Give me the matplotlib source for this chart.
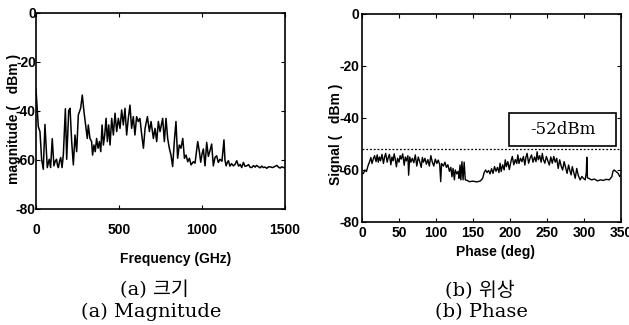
import matplotlib
matplotlib.use("Agg")
import matplotlib.pyplot as plt
from matplotlib.patches import Rectangle

plt.rcParams["axes.unicode_minus"] = False

# (a) magnitude spectrum
freq = [0, 14, 24, 34, 44, 54, 68, 80, 88, 98, 108, 116, 124, 129, 135, 142,
        149, 157, 165, 177, 185, 197, 205, 215, 225, 235, 245, 255, 269, 279,
        289, 299, 309, 315, 325, 335, 341, 349, 357, 365, 374, 382, 390, 398,
        406, 414, 422, 430, 438, 446, 456, 466, 476, 486, 496, 506, 516, 526,
        536, 546, 556, 566, 576, 586, 596, 606, 616, 626, 637, 647, 657, 671,
        683, 693, 707, 717, 727, 737, 747, 763, 773, 783, 793, 803, 813, 823,
        833, 843, 853, 863, 873, 884, 894, 904, 914, 924, 934, 948, 958, 974,
        984, 992, 1000, 1008, 1018, 1028, 1038, 1048, 1058, 1068, 1078, 1088,
        1098, 1108, 1120, 1132, 1138, 1145, 1152, 1159, 1168, 1178, 1189, 1199,
        1209, 1220, 1230, 1239, 1249, 1259, 1269, 1280, 1290, 1299, 1310, 1320,
        1329, 1340, 1350, 1360, 1369, 1380, 1390, 1400, 1410, 1425, 1440, 1450,
        1460, 1470, 1480, 1490, 1500]
magnitude = [-31, -46.4, -48.4, -59.7, -63.8, -45.5, -63.1, -59.7, -63.1, -51.3,
             -62.4, -60.5, -59.7, -62.0, -63.1, -60.5, -59.0, -63.1, -57.6, -39.1,
             -59.7, -39.9, -38.9, -52.5, -62.0, -49.8, -56.6, -41.6, -38.9, -33.5,
             -40.3, -45.7, -51.2, -45.7, -51.2, -52.5, -58.0, -53.9, -56.6, -51.2,
             -55.2, -52.5, -56.6, -45.7, -53.9, -49.8, -43.0, -52.5, -45.7, -53.9,
             -43.0, -49.8, -40.9, -48.4, -43.0, -47.1, -39.6, -45.7, -38.9, -49.8,
             -43.0, -37.6, -47.1, -42.3, -49.8, -42.3, -44.3, -43.0, -49.8, -55.2,
             -47.1, -42.3, -48.4, -44.3, -51.2, -47.1, -52.5, -44.3, -48.4, -43.0,
             -52.5, -43.0, -51.2, -55.2, -58.0, -62.7, -52.5, -44.3, -59.3, -53.9,
             -55.2, -51.2, -59.3, -58.0, -60.7, -59.3, -62.0, -60.7, -61.3, -52.5,
             -56.6, -60.9, -57.5, -55.5, -62.4, -52.8, -58.5, -56.2, -53.5, -62.4,
             -59.0, -58.3, -61.0, -59.7, -60.5, -51.8, -60.0, -62.4, -61.0, -60.3,
             -62.5, -61.5, -62.4, -61.8, -60.3, -62.5, -61.8, -63.1, -61.0, -62.6,
             -62.4, -61.9, -63.0, -63.1, -62.3, -62.9, -62.2, -62.8, -63.2, -62.5,
             -63.1, -62.9, -63.4, -62.8, -62.8, -63.1, -62.6, -62.2, -62.9, -63.3,
             -62.8, -63.1, -63.0]

# (b) signal vs phase
phase = [0, 2, 4, 6, 8, 10, 12, 13.5, 15, 17, 19, 20.5, 22, 23.5, 25, 27, 29,
         30.5, 32, 34, 35.5, 37, 39, 40.5, 42, 43.5, 45, 46.5, 48, 50, 51.5, 53,
         55, 57, 58.5, 60, 62, 63, 64.5, 66, 68, 70, 72, 74, 76, 78, 80, 81.5,
         83, 85, 87, 89, 91, 93, 95, 97, 99, 101, 103, 105, 106.3, 107.5, 110,
         112, 114, 116, 118, 120, 121.5, 123, 124.8, 126, 128, 130, 131, 132.4,
         133.5, 135, 136.5, 138, 139.5, 142, 145, 150, 155, 160, 163, 165, 167,
         169, 171, 173, 175, 177, 179, 181, 183, 185, 186.5, 188, 190, 192,
         193.5, 195, 197, 199, 201, 203, 205, 207, 209, 210.5, 212, 214, 216,
         218, 220, 221.5, 223, 225, 227, 229, 231, 233, 235, 236.5, 238, 240,
         242, 243.5, 245, 247, 249, 251, 253, 255, 257, 259, 261, 263, 265, 267,
         269, 271, 273, 275, 277, 279, 281, 282.5, 284, 286, 288, 290, 292,
         294.6, 297, 299, 301.4, 303, 303.6, 304.5, 306, 310, 314, 318, 322,
         326, 330, 334, 337.4, 339, 340.5, 343, 346, 348, 350]
signal = [-61.5, -61.3, -60.0, -60.6, -58.5, -57.0, -55.2, -57.5, -56.0, -54.5,
          -56.8, -54.2, -57.0, -55.0, -56.5, -54.0, -57.5, -55.0, -53.6, -57.0,
          -55.2, -54.0, -58.0, -55.0, -56.5, -53.8, -56.0, -58.8, -55.5, -57.0,
          -54.5, -55.8, -53.8, -58.2, -55.0, -56.5, -54.5, -62.0, -55.0, -57.0,
          -55.5, -57.2, -54.2, -58.5, -55.0, -56.8, -59.0, -55.2, -57.0, -55.5,
          -57.8, -56.0, -58.5, -54.5, -57.0, -58.5, -55.8, -57.5, -56.2, -58.0,
          -64.5, -57.5, -58.5, -57.0, -59.0, -58.0, -60.5, -59.0, -62.6, -59.4,
          -63.8, -60.0, -61.5, -60.5, -63.2, -58.1, -63.8, -56.8, -63.8, -57.0,
          -63.8, -64.0, -64.5, -64.3, -64.6, -64.2, -63.2, -61.0, -60.0, -61.0,
          -60.2, -61.5, -59.5, -61.3, -58.7, -60.5, -59.0, -61.0, -57.4, -60.6,
          -58.0, -60.0, -56.1, -58.7, -56.8, -59.8, -57.0, -54.8, -58.0, -56.0,
          -57.5, -54.2, -57.5, -55.5, -56.8, -54.8, -58.1, -55.0, -53.6, -57.4,
          -55.5, -54.2, -57.0, -55.0, -56.8, -53.0, -56.1, -54.5, -57.0, -53.6,
          -56.0, -57.4, -54.8, -56.5, -58.1, -55.0, -57.4, -54.8, -57.0, -55.5,
          -59.4, -56.1, -58.5, -60.0, -56.8, -59.0, -61.3, -58.1, -60.5, -61.9,
          -58.7, -61.0, -63.2, -59.4, -62.0, -63.8, -62.5, -63.2, -63.8, -61.0,
          -55.1, -63.0, -63.2, -63.8, -63.5, -64.2, -63.8, -64.0, -63.6, -63.8,
          -62.6, -60.5, -60.0, -60.6, -61.3, -62.5, -61.9]
threshold = -52
threshold_label = "-52dBm"

tick_family = ["Liberation Sans Narrow", "Liberation Sans"]
tick_font = dict(family=tick_family, size=10, weight="bold")
cap_font = ["DejaVu Serif", "Noto Sans CJK KR"]

fig = plt.figure(figsize=(6.29, 3.25), dpi=100)
ax1 = fig.add_axes([0.0572, 0.357, 0.396, 0.603])
ax2 = fig.add_axes([0.5755, 0.317, 0.412, 0.640])

ax1.plot(freq, magnitude, color="black", lw=1.1)
ax1.set_xlim(0, 1500)
ax1.set_ylim(-80, 0)
ax1.set_xticks([0, 500, 1000, 1500])
ax1.set_yticks([0, -20, -40, -60, -80])
ax1.tick_params(axis="x", pad=10)
ax1.tick_params(axis="y", pad=0)
ax1.set_xlabel("Frequency (GHz)", fontdict=tick_font)
ax1.xaxis.set_label_coords(0.56, -0.22)
ax1.set_ylabel("magnitude (   dBm )", fontdict=tick_font)
ax1.yaxis.set_label_coords(-0.06, 0.46)

ax2.plot(phase, signal, color="black", lw=1.0)
ax2.axhline(threshold, color="black", lw=0.9, ls=(0, (1.5, 1.5)))
ax2.add_patch(Rectangle((199, -50.8), 144, 12.7, fill=False, ec="black", lw=1.2))
ax2.text(271, -44.5, threshold_label, ha="center", va="center",
         family="DejaVu Serif", size=12)
ax2.set_xlim(0, 350)
ax2.set_ylim(-80, 0)
ax2.set_xticks(range(0, 351, 50))
ax2.set_yticks([0, -20, -40, -60, -80])
ax2.tick_params(axis="x", pad=3)
ax2.tick_params(axis="y", pad=2)
ax2.set_xlabel("Phase (deg)", fontdict=tick_font)
ax2.xaxis.set_label_coords(0.515, -0.11)
ax2.set_ylabel("Signal (   dBm )", fontdict=tick_font)
ax2.yaxis.set_label_coords(-0.075, 0.42)

for ax in (ax1, ax2):
    for s in ax.spines.values():
        s.set_linewidth(1.2)
    ax.tick_params(direction="in", length=3, width=0.8, top=True, right=True)
    for lab in ax.get_xticklabels() + ax.get_yticklabels():
        lab.set_family(tick_family)
        lab.set_fontsize(10)
        lab.set_fontweight("bold")

fig.text(0.245, 0.107, "(a) 크기", ha="center", va="center", family=cap_font, size=14)
fig.text(0.24, 0.04, "(a) Magnitude", ha="center", va="center", family=cap_font, size=14)
fig.text(0.763, 0.107, "(b) 위상", ha="center", va="center", family=cap_font, size=14)
fig.text(0.766, 0.04, "(b) Phase", ha="center", va="center", family=cap_font, size=14)

fig.savefig("out.png", dpi=100)
